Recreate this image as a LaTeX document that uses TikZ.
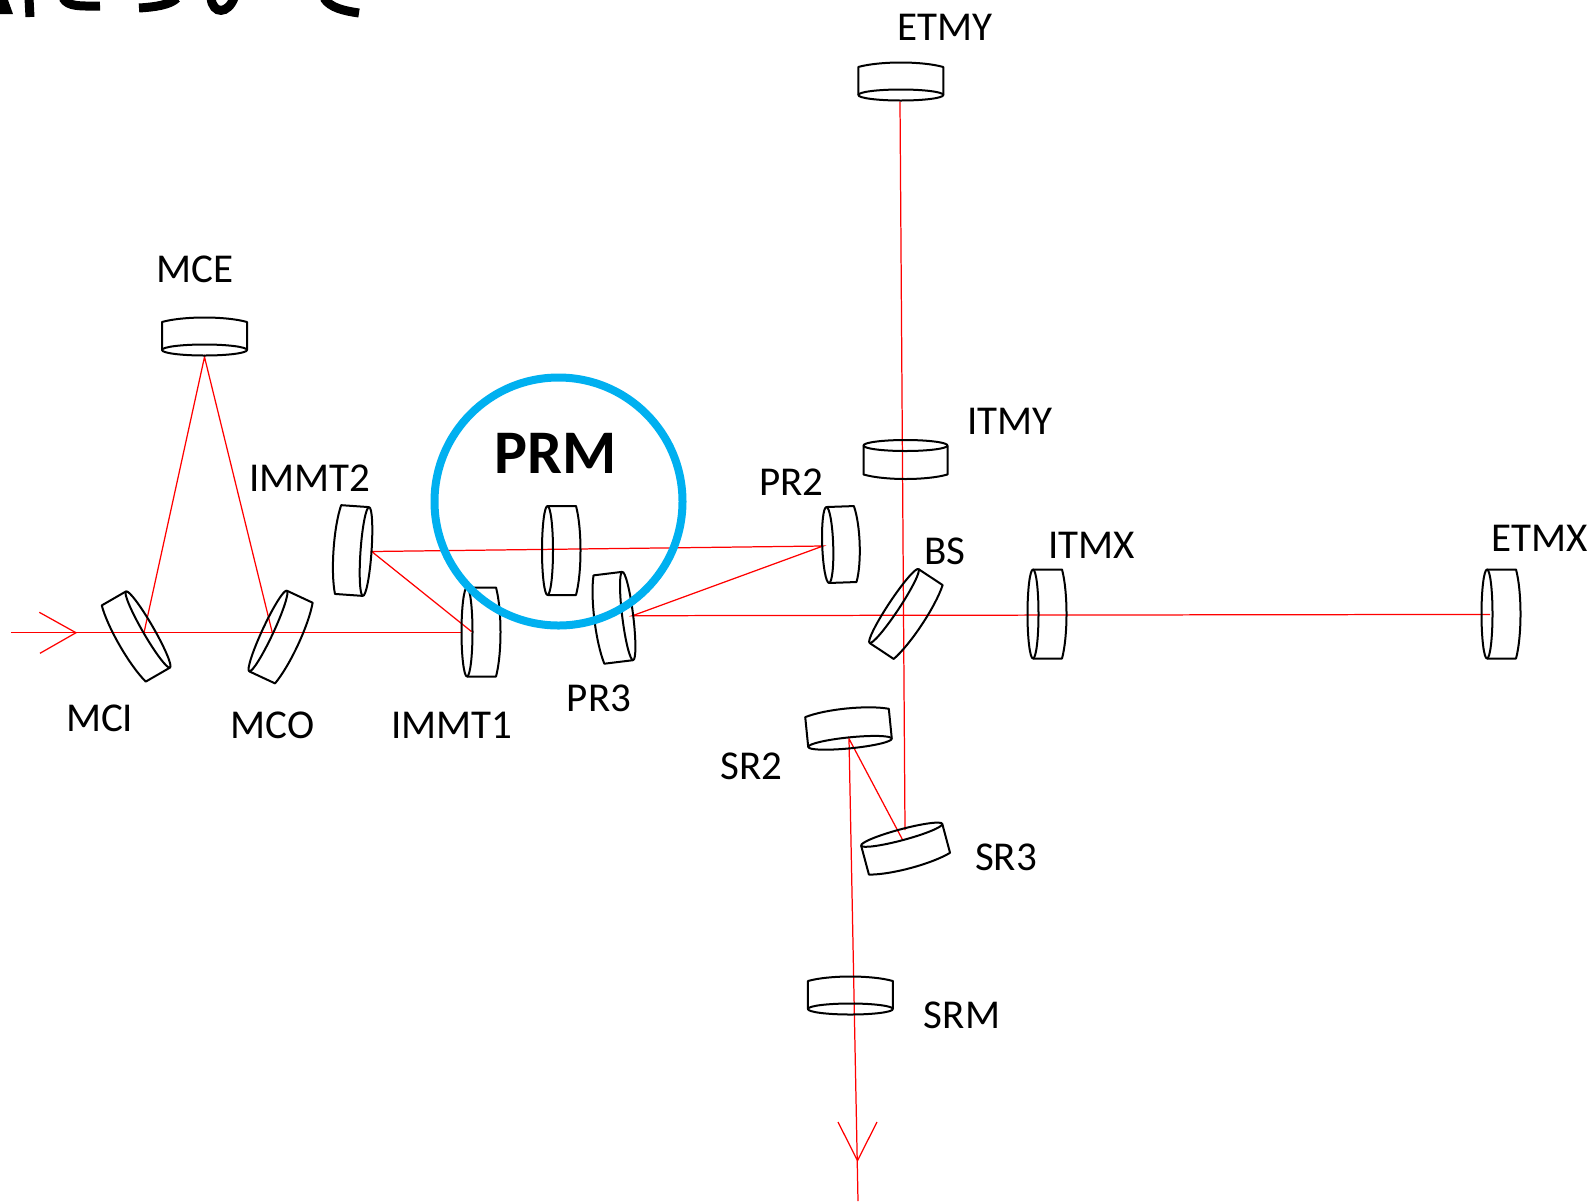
\documentclass[tikz,border=0pt]{standalone}
\usepackage{fontspec}
\setmainfont{Carlito}
\definecolor{ringblue}{HTML}{00B0F0}
\tikzset{
  mirrorline/.style={draw=black,line width=1pt,line join=round},
  beam/.style={draw=red,line width=0.62pt},
  lbl/.style={font=\fontsize{20.5}{24}\selectfont,inner sep=0pt,text=black},
  biglbl/.style={font=\fontsize{31}{36}\selectfont\bfseries,inner sep=0pt,text=black},
  ring/.style={draw=ringblue,line width=4pt},
  scribble/.style={draw=black,line width=4.5pt}
}
% centre x, centre y, clockwise angle, half length, thickness
\newcommand{\mirrorat}[5]{%
  \begin{scope}[shift={(#1,#2)},rotate=-#3]
    \path[mirrorline] (0,0) ellipse [x radius=#4,y radius=5.5];
    \path[mirrorline] (-#4,0) -- (-#4,-#5)
       .. controls ({-0.5*#4},{-#5-6}) and ({0.5*#4},{-#5-6}) .. (#4,-#5) -- (#4,0);
  \end{scope}}
\begin{document}
\begin{tikzpicture}[x=0.5pt,y=-0.5pt]
\useasboundingbox (0,0) rectangle (1595,1201);
\fill[white] (0,0) rectangle (1595,1201);
% handwriting remnant cut by the top edge
\begin{scope}
  \clip (0,0) rectangle (400,60);
  \fill[black] (0,0) -- (0,14) -- (13,14) -- (8,0) -- cycle;
  \path[scribble] (29,-2) -- (30,17);
  \path[scribble] (63,-2) .. controls (68,7) and (80,6) .. (100,6);
  \path[scribble] (139,8) .. controls (155,7) and (170,5) .. (177,-2);
  \path[scribble] (211,-2) .. controls (213,15) and (228,14) .. (234,-2);
  \path[scribble] (324,-2) .. controls (330,8) and (345,11) .. (359,13);
\end{scope}
% beam points
\coordinate (inS) at (11,632.7);
\coordinate (inTip) at (76,632.7);
\coordinate (inA) at (39.3,612.3);
\coordinate (inB) at (40,653.3);
\coordinate (hitMCI) at (144,632.7);
\coordinate (hitMCO) at (272.3,632.7);
\coordinate (hitMCE) at (204.5,357);
\coordinate (hitI1a) at (461.7,632.7);
\coordinate (hitI1b) at (471.7,631.7);
\coordinate (hitI2) at (371.7,551.5);
\coordinate (hitPR2) at (823,546);
\coordinate (hitPR3) at (632.5,615.7);
\coordinate (hitETMX) at (1490,614.4);
\coordinate (hitETMY) at (900,101.7);
\coordinate (hitSR3a) at (905,830);
\coordinate (hitSR3b) at (902.7,840);
\coordinate (hitSR2) at (849,738.7);
\coordinate (outTip) at (857.5,1160.6);
\coordinate (outA) at (838,1122);
\coordinate (outB) at (877,1122);
\coordinate (outE) at (858,1201);
% beams
\path[beam] (inS) -- (hitI1a);
\path[beam] (inA) -- (inTip) -- (inB);
\path[beam] (hitMCI) -- (hitMCE) -- (hitMCO);
\path[beam] (hitI1b) -- (hitI2) -- (hitPR2) -- (hitPR3) -- (hitETMX);
\path[beam] (hitETMY) -- (hitSR3a);
\path[beam] (hitSR3b) -- (hitSR2) -- (outE);
\path[beam] (outA) -- (outTip) -- (outB);
% mirrors
\mirrorat{148}{629.5}{-120}{44}{28}
\mirrorat{268}{631}{115}{44.5}{28.5}
\mirrorat{204.5}{350}{0}{42.5}{28}
\mirrorat{366}{551.5}{-86}{44.5}{28}
\mirrorat{467}{632}{90}{44.5}{29}
\mirrorat{547.5}{550.5}{90}{44.5}{28.5}
\mirrorat{627.7}{616}{-97}{44.5}{29}
\mirrorat{827.7}{545}{88}{38}{27.5}
\mirrorat{894}{606}{123.5}{44.3}{29}
\mirrorat{1033}{614}{90}{44.5}{29}
\mirrorat{1487}{614}{90}{44.5}{29}
\mirrorat{900.8}{95}{0}{42.5}{28}
\mirrorat{905.5}{445.5}{180}{42}{29}
\mirrorat{850}{742.8}{-5.7}{42}{30}
\mirrorat{901.7}{834.7}{165}{42}{30}
\mirrorat{850.4}{1009}{0}{42.5}{28}
% PRM ring
\node[circle,ring,minimum size=124pt,inner sep=0pt] (prmring) at (558.5,501.5) {};
% labels
\node[lbl] (lETMY) at (945,27.5) {ETMY};
\node[lbl] (lMCE) at (195,269.6) {MCE};
\node[lbl] (lIMMT2) at (310,478) {IMMT2};
\node[biglbl] (lPRM) at (555.5,453.7) {PRM};
\node[lbl] (lPR2) at (791.5,482) {PR2};
\node[lbl] (lITMY) at (1010,421) {ITMY};
\node[lbl] (lBS) at (945,551) {BS};
\node[lbl] (lITMX) at (1091.5,545) {ITMX};
\node[lbl] (lETMX) at (1540,538) {ETMX};
\node[lbl] (lMCI) at (99.7,718) {MCI};
\node[lbl] (lMCO) at (272.6,725) {MCO};
\node[lbl] (lIMMT1) at (451.6,725) {IMMT1};
\node[lbl] (lPR3) at (599,698) {PR3};
\node[lbl] (lSR2) at (751.7,766) {SR2};
\node[lbl] (lSR3) at (1006,857.5) {SR3};
\node[lbl] (lSRM) at (962,1015) {SRM};
\end{tikzpicture}
\end{document}
